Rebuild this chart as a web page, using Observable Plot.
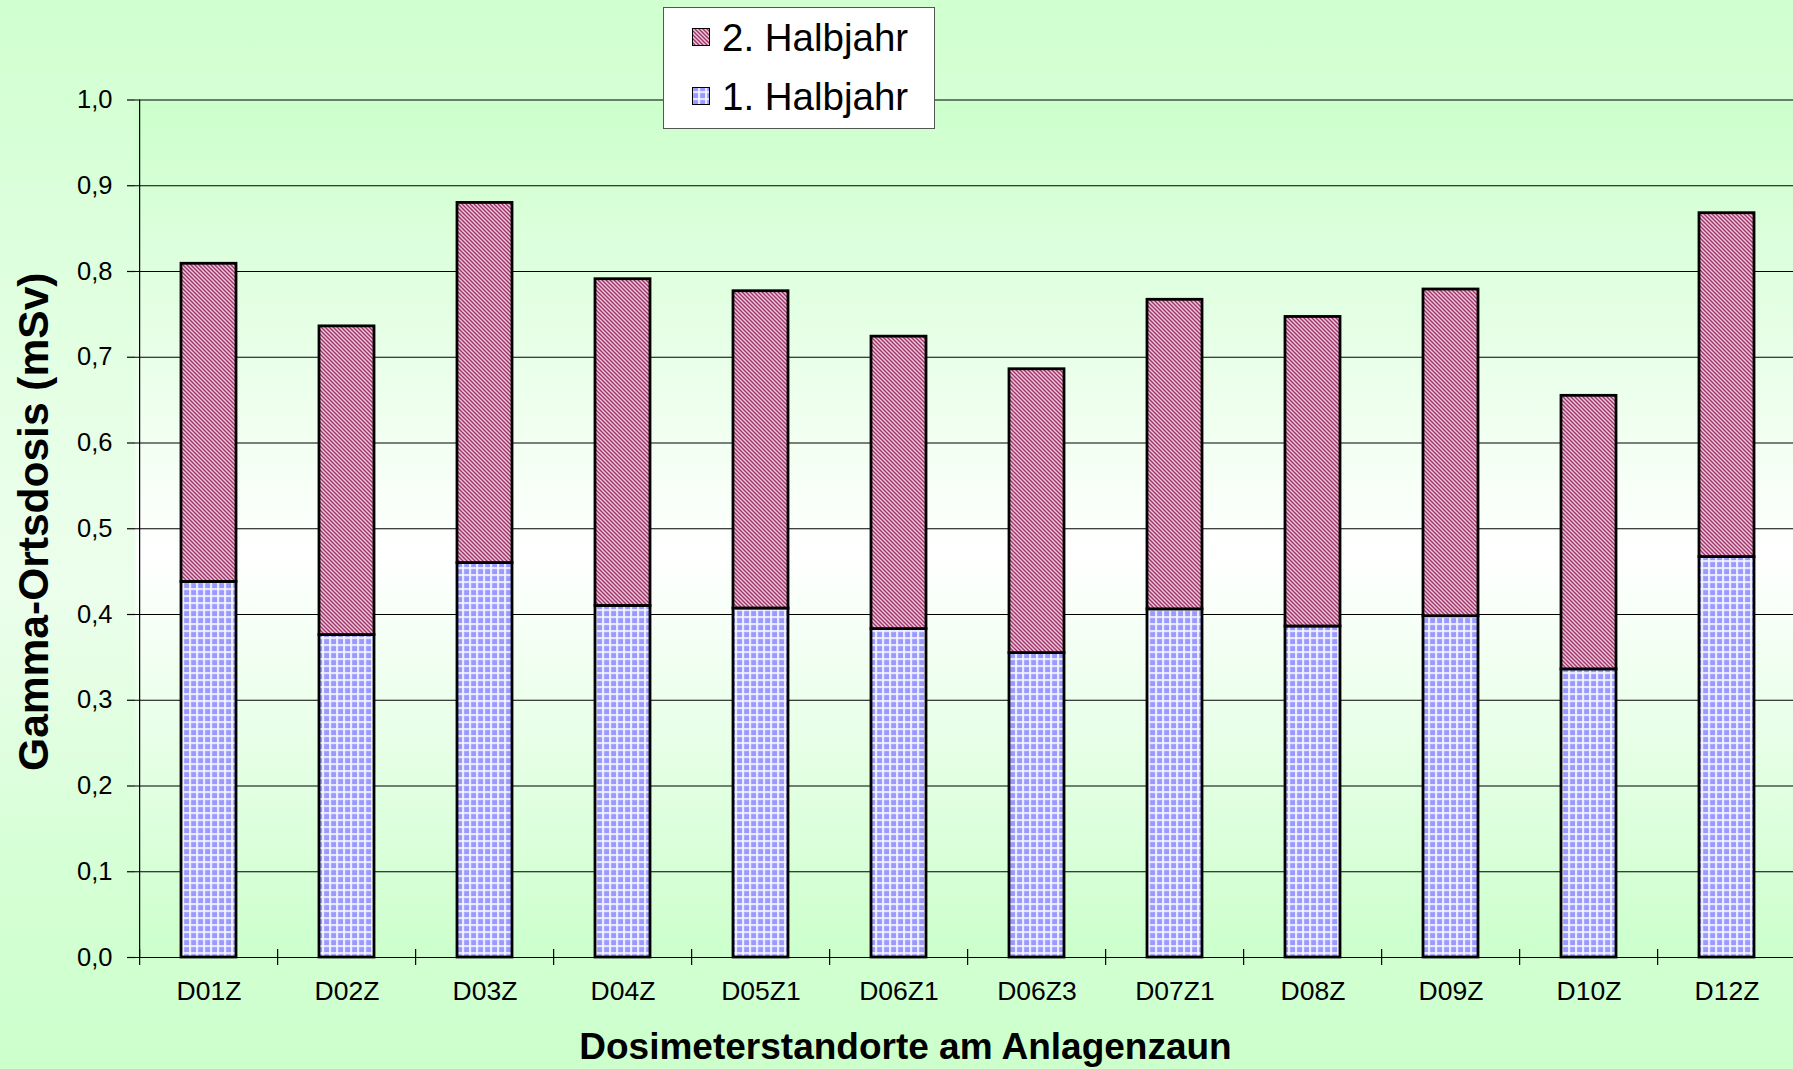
<!DOCTYPE html>
<html>
<head>
<meta charset="utf-8">
<script src="https://cdn.jsdelivr.net/npm/d3@7"></script>
<script src="https://cdn.jsdelivr.net/npm/@observablehq/plot@0.6"></script>
<style>
  html, body { margin: 0; padding: 0; overflow: hidden; }
  #wrap {
    position: relative; width: 1793px; height: 1069px; overflow: hidden;
    background: linear-gradient(to bottom, #d0ffd0 0%, #e4ffe4 35%, #ecfeec 55%, #d6ffd6 80%, #ccffcc 100%);
    font-family: "Liberation Sans", Arial, sans-serif;
  }
  #legend { position: absolute; left: 663px; top: 7px; }
</style>
</head>
<body>
<svg width="0" height="0" style="position:absolute">
  <defs>
    <pattern id="pat2" patternUnits="userSpaceOnUse" width="4" height="4">
      <rect width="4" height="4" fill="#993366"/>
      <path d="M-1,-1L5,5M3,-1L5,1M-1,3L1,5" stroke="#f0c4da" stroke-width="1.5"/>
    </pattern>
    <pattern id="pat1" patternUnits="userSpaceOnUse" width="7" height="7">
      <rect width="7" height="7" fill="#9999ff"/>
      <path d="M1,0V7M0,1H7" stroke="#ccccff" stroke-width="2.6"/>
      <path d="M1,0V7M0,1H7" stroke="#ffffff" stroke-width="1.2"/>
    </pattern>
    <linearGradient id="plotBg" x1="0" y1="0" x2="0" y2="1">
      <stop offset="0" stop-color="#ccffcc"/>
      <stop offset="0.53" stop-color="#ffffff"/>
      <stop offset="1" stop-color="#ccffcc"/>
    </linearGradient>
  </defs>
</svg>
<div id="wrap"></div>
<script>
// ---- data ----
const sites = ["D01Z","D02Z","D03Z","D04Z","D05Z1","D06Z1","D06Z3","D07Z1","D08Z","D09Z","D10Z","D12Z"];
const firstHalf  = [0.438,0.376,0.460,0.410,0.407,0.383,0.355,0.406,0.386,0.398,0.336,0.467];
const secondHalf = [0.371,0.360,0.420,0.381,0.370,0.341,0.331,0.361,0.361,0.381,0.319,0.401];
const seriesNames = ["1. Halbjahr","2. Halbjahr"];
const yTicks = [0,0.1,0.2,0.3,0.4,0.5,0.6,0.7,0.8,0.9,1.0];
const yTitle = "Gamma-Ortsdosis (mSv)";
const xTitle = "Dosimeterstandorte am Anlagenzaun";

const table = [];
sites.forEach((s, i) => table.push({site: s, half: seriesNames[0], value: firstHalf[i]}));
sites.forEach((s, i) => table.push({site: s, half: seriesNames[1], value: secondHalf[i]}));

// ---- layout ----
const W = 1793, H = 1069;
const xRange = [135, 1800];
const step = (xRange[1] - xRange[0]) / sites.length;

const plot = Plot.plot({
  width: W, height: H,
  marginLeft: 135, marginRight: 0, marginTop: 99.5, marginBottom: 112,
  style: {background: "transparent", fontFamily: "'Liberation Sans', Arial, sans-serif", overflow: "hidden"},
  x: {domain: sites, range: xRange, paddingInner: 0.6, paddingOuter: 0.3, label: null},
  y: {domain: [0, 1], label: null},
  color: {domain: seriesNames, range: ["url(#pat1)", "url(#pat2)"]},
  marks: [
    Plot.frame({fill: "url(#plotBg)", stroke: "none"}),
    Plot.ruleY(yTicks, {stroke: "black", strokeWidth: 1.2}),
    Plot.barY(table, {x: "site", y: "value", fill: "half", stroke: "black", strokeWidth: 2.8}),
    Plot.ruleX([sites[0]], {x: d => d, dx: -step / 2, y1: () => 0, y2: () => 1, stroke: "black", strokeWidth: 1.2}),
    Plot.ruleX(sites, {x: d => d, dx: -step / 2, y1: () => 0, y2: () => 0, insetTop: -8, insetBottom: -8, stroke: "black", strokeWidth: 1.2}),
    Plot.axisY(yTicks, {tickSize: 8, tickPadding: 15, fontSize: 25.5, fill: "black", stroke: "black", strokeWidth: 1.2,
      tickFormat: d => d.toFixed(1).replace(".", ","), label: null}),
    Plot.axisX({tickSize: 0, tickPadding: 24, fontSize: 26.5, fill: "black", label: null}),
    Plot.text([yTitle], {frameAnchor: "left", textAnchor: "middle", lineAnchor: "middle", rotate: -90, dx: -101, dy: -7,
      fontSize: 42.5, fontWeight: "bold", fill: "black"}),
    Plot.text([xTitle], {frameAnchor: "bottom", textAnchor: "middle", lineAnchor: "middle", dx: -59, dy: 90,
      fontSize: 37, fontWeight: "bold", fill: "black"})
  ]
});
document.getElementById("wrap").appendChild(plot);

// ---- legend ----
const legendItems = [seriesNames[1], seriesNames[0]];
const legendFills = {"1. Halbjahr": "url(#pat1)", "2. Halbjahr": "url(#pat2)"};
const lg = d3.select("#wrap").append("svg").attr("id", "legend").attr("width", 273).attr("height", 123);
lg.append("rect").attr("x", 0.5).attr("y", 0.5).attr("width", 271).attr("height", 121)
  .attr("fill", "white").attr("stroke", "#555").attr("stroke-width", 1);
legendItems.forEach((name, i) => {
  const cy = 29.5 + i * 59;
  lg.append("rect").attr("x", 29.5).attr("y", cy - 8).attr("width", 17).attr("height", 17)
    .attr("fill", legendFills[name]).attr("stroke", "black").attr("stroke-width", 1);
  lg.append("text").attr("x", 59).attr("y", cy + 14).attr("font-size", 38.5)
    .attr("font-family", "'Liberation Sans', Arial, sans-serif").attr("fill", "black").text(name);
});
</script>
</body>
</html>
